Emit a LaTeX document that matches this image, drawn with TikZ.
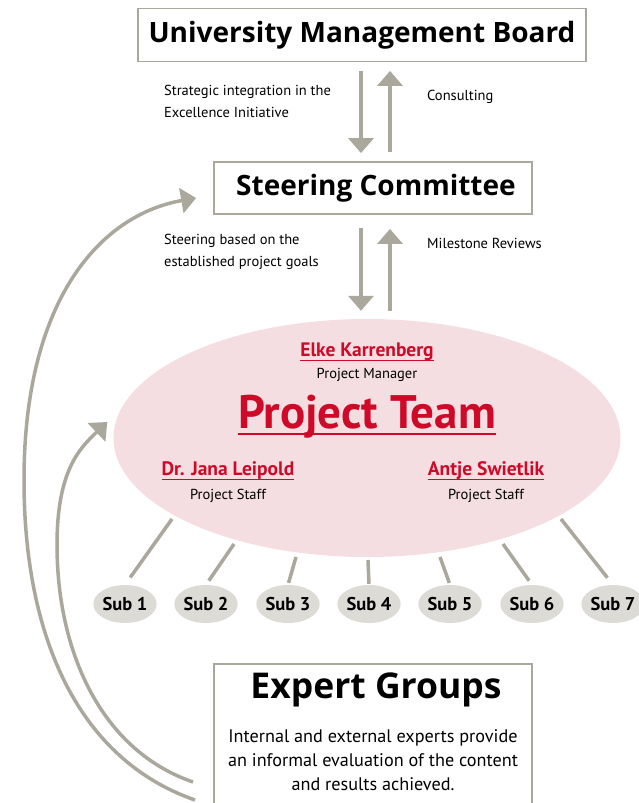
\documentclass[tikz,border=0pt]{standalone}
\usepackage{fontspec}
\setmainfont{PT Sans}
\newfontfamily\headfont{Open Sans}
\usetikzlibrary{arrows.meta,shapes.geometric}

\definecolor{arrowgray}{RGB}{170,167,157}
\definecolor{teampink}{RGB}{244,222,226}
\definecolor{subgray}{RGB}{221,219,214}
\definecolor{teamred}{RGB}{206,10,40}

\newcommand\teamline[3]{{\setbox0\hbox{#3}\rlap{\rule[-#1]{\wd0}{#2}}\box0}}

\begin{document}
\begin{tikzpicture}[%
      x=1pt, y=-1pt,
      box/.style={draw=arrowgray, line width=1.8pt, inner sep=0pt},
      boxtitle/.style={font=\headfont\bfseries\fontsize{28}{28}\selectfont},
      flow/.style={color=arrowgray, line width=3.5pt, -{Triangle[width=25pt,length=15pt]}},
      subline/.style={color=arrowgray, line width=3.5pt},
      sub/.style={ellipse, fill=subgray, minimum width=62pt, minimum height=38pt,
                  inner sep=0pt, font=\fontsize{18.5}{18.5}\selectfont\bfseries},
      note/.style={align=left, anchor=west, inner sep=0pt, font=\fontsize{14.5}{22}\selectfont},
      person/.style={text=teamred, font=\fontsize{19.5}{19.5}\selectfont\bfseries},
      role/.style={font=\fontsize{14.5}{14.5}\selectfont},
      ]
      \useasboundingbox (0,0) rectangle (638,803);

      \coordinate (dn) at (361,0);
      \coordinate (up) at (390,0);

      \node [box, boxtitle, minimum width=448pt, minimum height=53pt] (umb) at (362,35) {University Management Board};
      \node [box, boxtitle, minimum width=318pt, minimum height=52pt] (steer) at (373,188) {\hspace{6pt}Steering Committee};

      \node [ellipse, fill=teampink, minimum width=507pt, minimum height=238pt] (team) at (367,438) {};

      \draw [flow, shorten <=8.5pt, shorten >=8pt] (umb.south -| dn) -- (steer.north -| dn);
      \draw [flow, shorten <=9pt, shorten >=8.5pt] (steer.north -| up) -- (umb.south -| up);
      \draw [flow, shorten <=13pt, shorten >=8pt] (steer.south -| dn) -- (team.north -| dn);
      \draw [flow, shorten <=8pt, shorten >=14pt] (team.north -| up) -- (steer.south -| up);

      \node [note] (stratnote) at (164,101.5) {Strategic integration in the\\Excellence Initiative};
      \node [note] (consultnote) at (427,97) {Consulting};
      \node [note] (steernote) at (164,252) {Steering based on the\\established project goals};
      \node [note] (milenote) at (427,243) {Milestone Reviews};

      \node [person] (manager) at (367,352) {\teamline{4.7pt}{1.3pt}{Elke Karrenberg}};
      \node [role] (managerrole) at (367,375) {Project Manager};
      \node [text=teamred, font=\fontsize{47}{47}\selectfont\bfseries] (teamtitle) at (367,417)
            {\teamline{6.6pt}{2.2pt}{Project Team}};
      \node [person] (staffa) at (228,471) {\teamline{4.7pt}{1.3pt}{Dr. Jana Leipold}};
      \node [role] (staffarole) at (228,496) {Project Staff};
      \node [person] (staffb) at (486,471) {\teamline{4.7pt}{1.3pt}{Antje Swietlik}};
      \node [role] (staffbrole) at (486,496) {Project Staff};

      \foreach \x [count=\i] in {125,206,288,369,450,532,613}
        \node [sub] (sub\i) at (\x,604) {Sub \i};

      \foreach \i/\sx/\sy/\gap in {1/172/519/9, 2/234/544/5, 3/296/557/2, 4/368/560/1,
                                   5/440/557/2, 6/503/544/5, 7/561/519/9}
        \draw [subline, shorten >=\gap pt] (\sx,\sy) -- (sub\i.north);

      \node [box, minimum width=318pt, minimum height=160pt, anchor=north] (expert) at (373,663) {};
      \node [font=\headfont\bfseries\fontsize{35.5}{35.5}\selectfont] (experttitle) at (376,690) {Expert Groups};
      \node [align=center, font=\fontsize{18.2}{24}\selectfont] (expertnote) at (373,760)
            {Internal and external experts provide\\an informal evaluation of the content\\and results achieved.};

      \coordinate (outstart) at (195,800);
      \coordinate (instart) at (193,782);
      \draw [flow] (outstart) .. controls (80,760) and (24,640) .. (24,480)
            .. controls (24,300) and (100,215) .. ([xshift=-17pt,yshift=-10pt]steer.west);
      \draw [flow] (instart) .. controls (100,750) and (57,650) .. (57,545)
            .. controls (57,470) and (80,448) .. ([xshift=-6pt,yshift=16pt]team.west);
\end{tikzpicture}
\end{document}
